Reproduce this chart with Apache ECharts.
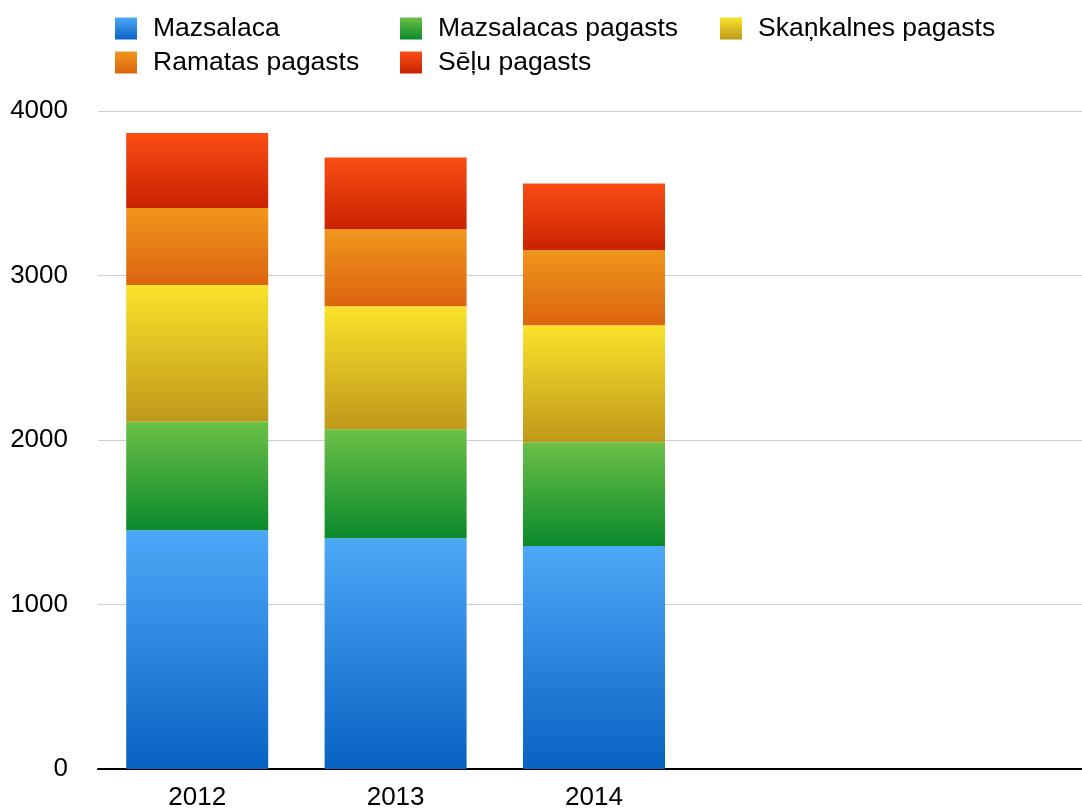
<!DOCTYPE html>
<html>
<head>
<meta charset="utf-8">
<title>Mazsalaca</title>
<script src="https://cdn.jsdelivr.net/npm/echarts@6/dist/echarts.min.js"></script>
<style>
  html, body { margin: 0; padding: 0; background: #fff; }
  #main { width: 1082px; height: 808px; }
</style>
</head>
<body>
<div id="main"></div>
<script>
// data
var years = ['2012', '2013', '2014', '', ' '];
var mazsalaca = [1452, 1403, 1355];
var mazsalacasPagasts = [660, 663, 632];
var skankalnesPagasts = [831, 747, 710];
var ramatasPagasts = [468, 468, 456];
var seluPagasts = [455, 437, 407];
var yTicks = { min: 0, max: 4000, interval: 1000 };

(function () {
  // 1. init
  var myChart = echarts.init(document.getElementById('main'));
  var font = "'Liberation Sans', Arial, sans-serif";

  // vertical gradient, light on top
  function grad(top, bottom) {
    return new echarts.graphic.LinearGradient(0, 0, 0, 1, [
      { offset: 0, color: top },
      { offset: 1, color: bottom }
    ]);
  }

  function bar(name, data, top, bottom) {
    return {
      name: name,
      type: 'bar',
      stack: 'total',
      barWidth: 142,
      data: data,
      itemStyle: { color: grad(top, bottom) }
    };
  }

  function legend(left, names) {
    return {
      orient: 'vertical',
      left: left,
      top: 15,
      padding: 0,
      itemWidth: 22,
      itemHeight: 22,
      itemGap: 7,
      icon: 'rect',
      data: names,
      textStyle: {
        fontFamily: font,
        fontSize: 26.5,
        color: '#000',
        padding: [0, 0, 0, 11]
      }
    };
  }

  // 2. options
  var option = {
    animation: false,
    legend: [
      legend(115, ['Mazsalaca', 'Ramatas pagasts']),
      legend(400, ['Mazsalacas pagasts', 'Sēļu pagasts']),
      legend(720, ['Skaņkalnes pagasts'])
    ],
    grid: {
      top: 111,
      bottom: 39,
      left: 98,
      right: -8,
      outerBoundsMode: 'none'  // last category runs past the right edge
    },
    xAxis: {
      type: 'category',
      data: years,
      axisTick: { show: false },
      axisLine: {
        lineStyle: { color: '#000', width: 2 }
      },
      axisLabel: {
        fontFamily: font,
        fontSize: 26,
        color: '#000',
        margin: 16
      }
    },
    yAxis: {
      type: 'value',
      min: yTicks.min,
      max: yTicks.max,
      interval: yTicks.interval,
      axisLine: { show: false },
      axisTick: { show: false },
      splitLine: {
        lineStyle: { color: '#cfcfcf', width: 1 }
      },
      axisLabel: {
        fontFamily: font,
        fontSize: 26,
        color: '#000',
        margin: 30,
        formatter: function (v) { return String(v); }
      }
    },
    series: [
      bar('Mazsalaca', mazsalaca, '#4ea8f8', '#0862c2'),
      bar('Mazsalacas pagasts', mazsalacasPagasts, '#6cc046', '#0a8a2c'),
      bar('Skaņkalnes pagasts', skankalnesPagasts, '#fae32a', '#bf981a'),
      bar('Ramatas pagasts', ramatasPagasts, '#f0961c', '#dc6410'),
      bar('Sēļu pagasts', seluPagasts, '#fa4c14', '#c82200')
    ]
  };

  // 3. apply
  myChart.setOption(option);
  window.addEventListener('resize', function () {
    myChart.resize();
  });
})();
</script>
</body>
</html>
